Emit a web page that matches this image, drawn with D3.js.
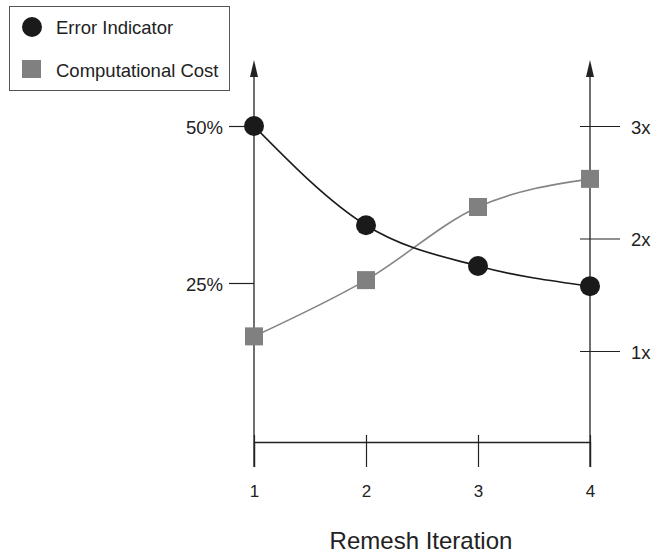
<!DOCTYPE html>
<html>
<head>
<meta charset="utf-8">
<script src="https://cdn.jsdelivr.net/npm/d3@7"></script>
<style>
  body { margin: 0; background: #fff; }
  svg { display: block; font-family: "Liberation Sans", Arial, Helvetica, sans-serif; }
</style>
</head>
<body>
<svg id="chart" width="665" height="556"></svg>
<script>
// values
const iterations = [1, 2, 3, 4];
const errorIndicator = [50, 34.2, 27.7, 24.5];        // percent, left axis
const computationalCost = [1.13, 1.63, 2.28, 2.53];  // multiplier, right axis
const errorTicks = [25, 50];
const costTicks = [1, 2, 3];
const seriesNames = ["Error Indicator", "Computational Cost"];

const svg = d3.select("#chart");

const x = d3.scaleLinear().domain([1, 4]).range([254, 590]);
const yErr = d3.scaleLinear().domain([0, 50]).range([440, 126]);
const yCost = d3.scaleLinear().domain([1, 3]).range([351, 126]);

const axisColor = "#222";
const fontFam = "'Liberation Sans', Arial, sans-serif";

// vertical axis lines with arrow heads
[1, 4].forEach(v => {
  const ax = x(v);
  svg.append("line")
    .attr("x1", ax).attr("x2", ax)
    .attr("y1", 467).attr("y2", 70)
    .attr("stroke", axisColor).attr("stroke-width", 1.3);
  svg.append("path")
    .attr("d", `M${ax},60 L${ax + 4},77 L${ax - 4},77 Z`)
    .attr("fill", axisColor);
});

// left axis
const leftAxis = svg.append("g")
  .attr("transform", `translate(${x(1)},0)`)
  .call(d3.axisLeft(yErr).tickValues(errorTicks).tickSize(25).tickPadding(6)
    .tickFormat(d => d + "%"));
leftAxis.select(".domain").remove();
leftAxis.selectAll(".tick line").attr("stroke", axisColor).attr("stroke-width", 1.2);
leftAxis.selectAll(".tick text")
  .attr("font-size", 18.5).attr("fill", "#222").attr("dy", "0.38em")
  .style("font-family", fontFam);

// right axis, ticks cross the axis line
const rightAxis = svg.append("g")
  .attr("transform", `translate(${x(4)},0)`)
  .call(d3.axisRight(yCost).tickValues(costTicks).tickSize(30).tickPadding(11)
    .tickFormat(d => d + "x"));
rightAxis.select(".domain").remove();
rightAxis.selectAll(".tick line").attr("x1", -10)
  .attr("stroke", axisColor).attr("stroke-width", 1.2);
rightAxis.selectAll(".tick text")
  .attr("font-size", 18.5).attr("fill", "#222").attr("dy", "0.38em")
  .style("font-family", fontFam);

// bottom axis
const bottomAxis = svg.append("g")
  .attr("transform", "translate(0,442)")
  .call(d3.axisBottom(x).tickValues(iterations).tickSize(25).tickPadding(18)
    .tickFormat(d3.format("d")));
bottomAxis.select(".domain").attr("stroke", axisColor).attr("stroke-width", 1.3);
bottomAxis.selectAll(".tick line").attr("y1", -7)
  .attr("stroke", axisColor).attr("stroke-width", 1.2);
bottomAxis.selectAll(".tick text")
  .attr("font-size", 17).attr("fill", "#222")
  .style("font-family", fontFam);

svg.append("text")
  .attr("x", 421).attr("y", 549)
  .attr("text-anchor", "middle")
  .attr("font-size", 24).attr("fill", "#222")
  .text("Remesh Iteration");

// curves
const errData = iterations.map((it, i) => ({ it, v: errorIndicator[i] }));
const costData = iterations.map((it, i) => ({ it, v: computationalCost[i] }));

svg.append("path")
  .datum(costData)
  .attr("fill", "none").attr("stroke", "#858585").attr("stroke-width", 1.6)
  .attr("d", d3.line().x(d => x(d.it)).y(d => yCost(d.v)).curve(d3.curveMonotoneX));

svg.append("path")
  .datum(errData)
  .attr("fill", "none").attr("stroke", "#1a1a1a").attr("stroke-width", 1.6)
  .attr("d", d3.line().x(d => x(d.it)).y(d => yErr(d.v)).curve(d3.curveMonotoneX));

// markers
const sq = 18;
svg.selectAll(".cost")
  .data(costData)
  .join("rect")
  .attr("class", "cost")
  .attr("x", d => x(d.it) - sq / 2).attr("y", d => yCost(d.v) - sq / 2)
  .attr("width", sq).attr("height", sq)
  .attr("fill", "#808080");

svg.selectAll(".err")
  .data(errData)
  .join("circle")
  .attr("class", "err")
  .attr("cx", d => x(d.it)).attr("cy", d => yErr(d.v))
  .attr("r", 10)
  .attr("fill", "#1a1a1a");

// legend
const legend = svg.append("g");
legend.append("rect")
  .attr("x", 9.5).attr("y", 6.5).attr("width", 220).attr("height", 84)
  .attr("fill", "#fff").attr("stroke", "#555").attr("stroke-width", 1);
legend.append("circle").attr("cx", 32).attr("cy", 27).attr("r", 10).attr("fill", "#1a1a1a");
legend.append("rect").attr("x", 22).attr("y", 60).attr("width", 19).attr("height", 18).attr("fill", "#808080");
legend.selectAll(".lab")
  .data(seriesNames)
  .join("text")
  .attr("class", "lab")
  .attr("x", 56).attr("y", (d, i) => i === 0 ? 34 : 77)
  .attr("font-size", 18.5).attr("fill", "#222")
  .text(d => d);
</script>
</body>
</html>
